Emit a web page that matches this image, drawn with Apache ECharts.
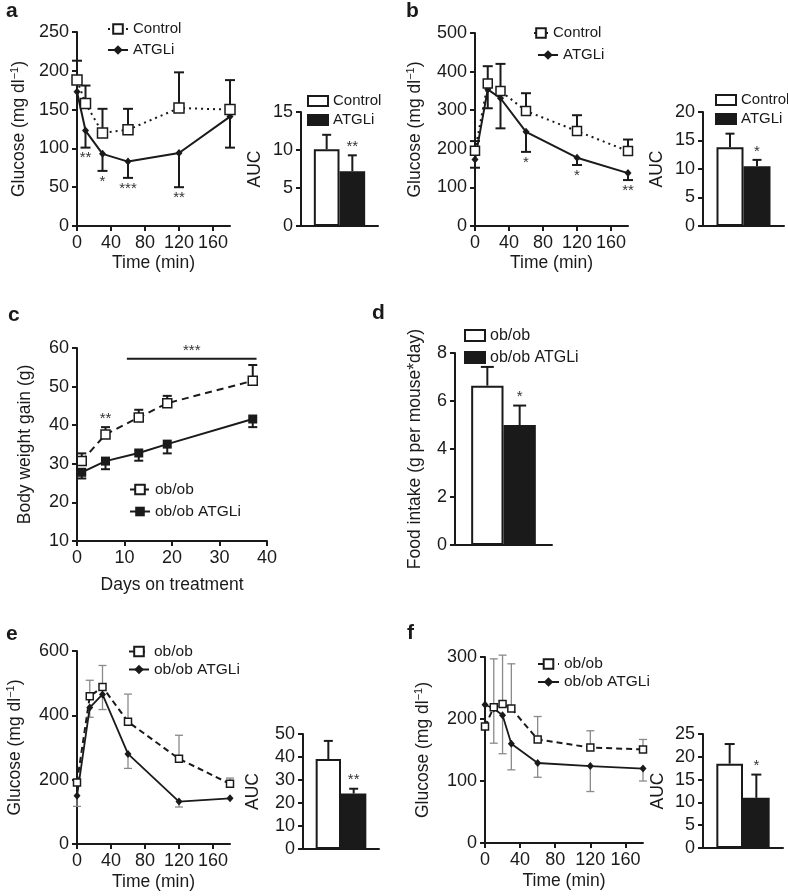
<!DOCTYPE html>
<html><head><meta charset="utf-8">
<script src="https://cdn.jsdelivr.net/npm/echarts@6/dist/echarts.min.js"></script>
<style>html,body{margin:0;padding:0;background:#fff}#c{width:788px;height:896px}</style>
</head><body><div id="c"></div>
<script>
// ================= DATA =================
// tick labels
const timeTicks = [0, 40, 80, 120, 160];
const barSlots = ['', 'Control', 'ATGLi', ''];
// Panel a (glucose, time course)
const aTime = [0, 10, 30, 60, 120, 180];
const aControl = [188, 158, 120, 124, 152, 150];
const aControlErr = [25, 23, 31, 27, 46, 38];
const aATGLi = [173, 123, 93, 83, 94, 141];
const aATGLiErr = [0, 22, 22, 21, 44, 40];
const aStars = ['', '**', '*', '***', '**', ''];
// Panel a AUC
const aAUC = [10.1, 7.2];
const aAUCErr = [1.9, 2.1];
const aAUCStars = ['', '**'];
// Panel b
const bTime = [0, 15, 30, 60, 120, 180];
const bControl = [195, 369, 350, 298, 246, 194];
const bControlErr = [25, 45, 70, 46, 41, 30];
const bATGLi = [172, 354, 331, 244, 177, 137];
const bATGLiErr = [21, 49, 78, 52, 19, 18];
const bStars = ['', '', '', '*', '*', '**'];
const bAUC = [13.8, 10.5];
const bAUCErr = [2.4, 1.1];
const bAUCStars = ['', '*'];
// Panel c (body weight gain)
const cDays = [1, 6, 13, 19, 37];
const cObob = [30.7, 37.6, 42.0, 45.7, 51.5];
const cObobErr = [2.0, 1.9, 2.0, 1.9, 4.1];
const cATGLi = [27.8, 30.7, 32.8, 35.1, 41.6];
const cATGLiErr = [1.6, 2.1, 2.0, 2.4, 2.1];
const cStars = ['', '**', '', '', ''];
const cSigStart = 10.5, cSigEnd = 37.8, cSigLevel = 57.2, cSigText = '***';
// Panel d (food intake)
const dValues = [6.64, 5.0];
const dErr = [0.78, 0.81];
const dStars = ['', '*'];
// Panel e
const eTime = [0, 15, 30, 60, 120, 180];
const eObob = [191, 459, 488, 380, 265, 187];
const eObobErr = [0, 50, 67, 86, 73, 18];
const eATGLi = [150, 424, 465, 280, 132, 142];
const eATGLiErr = [33, 30, 47, 45, 17, 0];
const eAUC = [39.1, 24.1];
const eAUCErr = [7.9, 2.1];
const eAUCStars = ['', '**'];
// Panel f
const fTime = [0, 10, 20, 30, 60, 120, 180];
const fObob = [188, 219, 224, 217, 167, 154, 151];
const fObobErr = [0, 78, 79, 72, 37, 27, 16];
const fATGLi = [223, 217, 206, 160, 129, 124, 120];
const fATGLiErr = [0, 56, 62, 42, 23, 41, 20];
const fAUC = [18.5, 11.0];
const fAUCErr = [4.3, 5.1];
const fAUCStars = ['', '*'];

// ================= STYLE / BUILD =================
const FONT = "'Liberation Sans', Arial, Helvetica, sans-serif";
const INK = '#1a1a1a';
const GREY = '#8a8a8a';
const STAR = '#333';
const zip = (xs, ys) => xs.map((x, i) => [x, ys[i]]);
const errData = (xs, ys, es, dir) => xs.map((x, i) => [x, ys[i], es[i], dir]);

const grids = [
  {left: 77, top: 32, width: 153, height: 194},    // 0 a
  {left: 301, top: 112, width: 77, height: 114},   // 1 a AUC
  {left: 475, top: 33, width: 153, height: 193},   // 2 b
  {left: 703, top: 112, width: 81, height: 114},   // 3 b AUC
  {left: 77, top: 348, width: 190, height: 193},   // 4 c
  {left: 455, top: 353, width: 97, height: 192},   // 5 d
  {left: 77, top: 651, width: 153, height: 193},   // 6 e
  {left: 303, top: 734, width: 76, height: 115},   // 7 e AUC
  {left: 485, top: 657, width: 158, height: 186},  // 8 f
  {left: 703, top: 734, width: 80, height: 114}    // 9 f AUC
].map(g => Object.assign({containLabel: false, outerBoundsMode: 'none'}, g));

const axisLine = {show: true, onZero: false, lineStyle: {color: INK, width: 2}};
const axisTick = {show: true, inside: false, length: 5, lineStyle: {color: INK, width: 2}};
const tickLabel = {color: INK, fontSize: 18, fontFamily: FONT, margin: 8};
const nameStyle = {color: INK, fontSize: 17.5, fontFamily: FONT, lineHeight: 20,
  rich: {sup: {fontSize: 11, fontFamily: FONT, color: INK, verticalAlign: 'top', lineHeight: 12}}};

function xTime(gi, name, gap) {
  return {type: 'value', gridIndex: gi, min: 0, max: 180, axisLine,
    axisTick: Object.assign({}, axisTick, {customValues: timeTicks}),
    axisLabel: Object.assign({}, tickLabel, {customValues: timeTicks}),
    splitLine: {show: false}, name, nameLocation: 'middle', nameGap: gap, nameTextStyle: nameStyle};
}
function xBars(gi) {
  return {type: 'category', gridIndex: gi, data: barSlots, boundaryGap: false, axisLine,
    axisTick: {show: false}, axisLabel: {show: false}, splitLine: {show: false}};
}
function yVal(gi, min, max, interval, name, gap) {
  return {type: 'value', gridIndex: gi, min, max, interval, axisLine, axisTick,
    axisLabel: tickLabel, splitLine: {show: false},
    name, nameLocation: 'middle', nameGap: gap, nameTextStyle: nameStyle};
}

const xAxes = [
  xTime(0, 'Time (min)', 22),
  xBars(1),
  xTime(2, 'Time (min)', 22),
  xBars(3),
  {type: 'value', gridIndex: 4, min: 0, max: 40, interval: 10, axisLine, axisTick, axisLabel: tickLabel,
    splitLine: {show: false}, name: 'Days on treatment', nameLocation: 'middle', nameGap: 34, nameTextStyle: nameStyle},
  xBars(5),
  xTime(6, 'Time (min)', 28),
  xBars(7),
  xTime(8, 'Time (min)', 28),
  xBars(9)
];
const GL = 'Glucose (mg dl{sup|\u22121})';
const yAxes = [
  yVal(0, 0, 250, 50, GL, 48),
  yVal(1, 0, 15, 5, 'AUC', 36),
  yVal(2, 0, 500, 100, GL, 50),
  yVal(3, 0, 20, 5, 'AUC', 36),
  yVal(4, 10, 60, 10, 'Body weight gain (g)', 42),
  yVal(5, 0, 8, 2, 'Food intake (g per mouse*day)', 30),
  yVal(6, 0, 600, 200, GL, 52),
  yVal(7, 0, 50, 10, 'AUC', 40),
  yVal(8, 0, 300, 100, GL, 52),
  yVal(9, 0, 25, 5, 'AUC', 35)
];

function errSeries(gi, data, color, lw, cap) {
  return {type: 'custom', xAxisIndex: gi, yAxisIndex: gi, z: 1, silent: true, data,
    renderItem(params, api) {
      const x = api.value(0), y = api.value(1), e = api.value(2), dir = api.value(3);
      if (!e) return null;
      const p0 = api.coord([x, y]), p1 = api.coord([x, y + dir * e]);
      const st = {stroke: color, lineWidth: lw};
      return {type: 'group', children: [
        {type: 'line', shape: {x1: p0[0], y1: p0[1], x2: p1[0], y2: p1[1]}, style: st},
        {type: 'line', shape: {x1: p1[0] - cap / 2, y1: p1[1], x2: p1[0] + cap / 2, y2: p1[1]}, style: st}
      ]};
    }};
}
function starSeries(gi, anchors, texts, below, dy) {
  return {type: 'custom', xAxisIndex: gi, yAxisIndex: gi, z: 5, silent: true, data: anchors,
    renderItem(params, api) {
      const t = texts[params.dataIndex];
      if (!t) return null;
      const p = api.coord([api.value(0), api.value(1)]);
      return {type: 'text', x: p[0], y: p[1] + dy, style: {text: t, fill: STAR,
        font: '15px ' + FONT, align: 'center', verticalAlign: below ? 'top' : 'bottom'}};
    }};
}
function lineSeries(gi, name, xs, ys, opt) {
  return Object.assign({type: 'line', name, xAxisIndex: gi, yAxisIndex: gi, data: zip(xs, ys),
    showSymbol: true, z: 3, silent: true}, opt);
}
const openSq = (size, lineType, lw) => ({symbol: 'rect', symbolSize: size,
  itemStyle: {color: '#fff', borderColor: INK, borderWidth: 1.5},
  lineStyle: {color: INK, width: lw, type: lineType}, z: 4});
const diamond = (size, lw) => ({symbol: 'diamond', symbolSize: size,
  itemStyle: {color: INK, borderWidth: 0}, lineStyle: {color: INK, width: lw, type: 'solid'}});
const filledSq = (size, lw) => ({symbol: 'rect', symbolSize: size,
  itemStyle: {color: INK, borderWidth: 0}, lineStyle: {color: INK, width: lw, type: 'solid'}});

function barPanel(gi, prefix, names, vals, errs, stars, cap) {
  const pad = (v, k) => barSlots.map((_, i) => i === k + 1 ? v : '-');
  return [
    {type: 'bar', name: prefix + names[0], xAxisIndex: gi, yAxisIndex: gi, data: pad(vals[0], 0),
      barWidth: '100%', barGap: '-100%', silent: true, z: 2,
      itemStyle: {color: '#fff', borderColor: INK, borderWidth: 2}},
    {type: 'bar', name: prefix + names[1], xAxisIndex: gi, yAxisIndex: gi, data: pad(vals[1], 1),
      barWidth: '100%', barGap: '-100%', silent: true, z: 2,
      itemStyle: {color: INK, borderColor: INK, borderWidth: 2}},
    errSeries(gi, vals.map((v, i) => [i + 1, v, errs[i], 1]), INK, 2, cap),
    starSeries(gi, vals.map((v, i) => [i + 1, v + errs[i]]), stars, false, -1)
  ];
}

const series = [
  // a
  errSeries(0, errData(aTime, aControl, aControlErr, 1), INK, 2, 10),
  errSeries(0, errData(aTime, aATGLi, aATGLiErr, -1), INK, 2, 10),
  lineSeries(0, 'a:ATGLi', aTime, aATGLi, diamond([7, 8], 2)),
  lineSeries(0, 'a:Control', aTime, aControl, openSq(10, [2, 4], 2)),
  starSeries(0, aTime.map((t, i) => [t, aATGLi[i] - aATGLiErr[i]]), aStars, true, 3),
  ...barPanel(1, 'aA:', ['Control', 'ATGLi'], aAUC, aAUCErr, aAUCStars, 9),
  // b
  errSeries(2, errData(bTime, bControl, bControlErr, 1), INK, 2, 10),
  errSeries(2, errData(bTime, bATGLi, bATGLiErr, -1), INK, 2, 10),
  lineSeries(2, 'b:ATGLi', bTime, bATGLi, diamond([7, 8], 2)),
  lineSeries(2, 'b:Control', bTime, bControl, openSq(9, [2, 4], 2)),
  starSeries(2, bTime.map((t, i) => [t, bATGLi[i] - bATGLiErr[i]]), bStars, true, 3),
  ...barPanel(3, 'bA:', ['Control', 'ATGLi'], bAUC, bAUCErr, bAUCStars, 9),
  // c
  errSeries(4, errData(cDays, cObob, cObobErr, 1), INK, 2, 9),
  errSeries(4, errData(cDays, cATGLi, cATGLiErr, -1), INK, 2, 9),
  lineSeries(4, 'c:ob/ob ATGLi', cDays, cATGLi, filledSq(9, 2)),
  lineSeries(4, 'c:ob/ob', cDays, cObob, openSq(9, [7, 5], 2)),
  starSeries(4, cDays.map((t, i) => [t, cObob[i] + cObobErr[i]]), cStars, false, -1),
  {type: 'custom', xAxisIndex: 4, yAxisIndex: 4, z: 5, silent: true, data: [[cSigStart, cSigEnd, cSigLevel]],
    renderItem(params, api) {
      const p0 = api.coord([api.value(0), api.value(2)]), p1 = api.coord([api.value(1), api.value(2)]);
      return {type: 'group', children: [
        {type: 'line', shape: {x1: p0[0], y1: p0[1], x2: p1[0], y2: p1[1]}, style: {stroke: INK, lineWidth: 2}},
        {type: 'text', x: (p0[0] + p1[0]) / 2, y: p0[1], style: {text: cSigText, fill: STAR,
          font: '15px ' + FONT, align: 'center', verticalAlign: 'bottom'}}
      ]};
    }},
  // d
  ...barPanel(5, 'd:', ['ob/ob', 'ob/ob ATGLi'], dValues, dErr, dStars, 13),
  // e
  errSeries(6, errData(eTime, eObob, eObobErr, 1), GREY, 1.3, 8),
  errSeries(6, errData(eTime, eATGLi, eATGLiErr, -1), GREY, 1.3, 8),
  lineSeries(6, 'e:ob/ob ATGLi', eTime, eATGLi, diamond([7, 8], 1.8)),
  lineSeries(6, 'e:ob/ob', eTime, eObob, openSq(7, [6, 4], 2)),
  ...barPanel(7, 'eA:', ['ob/ob', 'ob/ob ATGLi'], eAUC, eAUCErr, eAUCStars, 9),
  // f
  errSeries(8, errData(fTime, fObob, fObobErr, 1), GREY, 1.3, 8),
  errSeries(8, errData(fTime, fATGLi, fATGLiErr, -1), GREY, 1.3, 8),
  lineSeries(8, 'f:ob/ob ATGLi', fTime, fATGLi, diamond([7, 8], 1.8)),
  lineSeries(8, 'f:ob/ob', fTime, fObob, openSq(7, [6, 4], 2)),
  ...barPanel(9, 'fA:', ['ob/ob', 'ob/ob ATGLi'], fAUC, fAUCErr, fAUCStars, 10)
];

const legBase = {orient: 'vertical', padding: 0, selectedMode: false,
  textStyle: {fontSize: 15, color: INK, fontFamily: FONT},
  formatter: n => n.split(':')[1]};
const leg = o => Object.assign({}, legBase, o);
const legend = [
  leg({left: 107, top: 21.5, itemWidth: 20, itemHeight: 12, itemGap: 6, data: ['a:Control', 'a:ATGLi']}),
  leg({left: 307, top: 93.5, itemWidth: 20, itemHeight: 10, itemGap: 4, icon: 'rect', data: ['aA:Control', 'aA:ATGLi']}),
  leg({left: 533, top: 25.5, itemWidth: 14, itemHeight: 12, data: ['b:Control']}),
  leg({left: 537, top: 47.5, itemWidth: 20, itemHeight: 12, data: ['b:ATGLi']}),
  leg({left: 715, top: 92.5, itemWidth: 20, itemHeight: 10, itemGap: 4, icon: 'rect', data: ['bA:Control', 'bA:ATGLi']}),
  leg({left: 129, top: 481.5, itemWidth: 20, itemHeight: 12, itemGap: 6, data: ['c:ob/ob', 'c:ob/ob ATGLi'],
    textStyle: {fontSize: 15.5, color: INK, fontFamily: FONT}}),
  leg({left: 464, top: 327.5, itemWidth: 20, itemHeight: 11, itemGap: 6, icon: 'rect', data: ['d:ob/ob', 'd:ob/ob ATGLi'],
    textStyle: {fontSize: 16, color: INK, fontFamily: FONT}}),
  leg({left: 128, top: 643.5, itemWidth: 20, itemHeight: 12, itemGap: 2, data: ['e:ob/ob', 'e:ob/ob ATGLi'],
    textStyle: {fontSize: 15.5, color: INK, fontFamily: FONT}}),
  leg({left: 537, top: 656, itemWidth: 21, itemHeight: 12, itemGap: 2, data: ['f:ob/ob', 'f:ob/ob ATGLi'],
    textStyle: {fontSize: 15.5, color: INK, fontFamily: FONT}})
];

const panelLabel = (t, left, top) => ({text: t, left, top, padding: 0,
  textStyle: {fontSize: 21, fontWeight: 'bold', color: INK, fontFamily: FONT}});
const title = [
  panelLabel('a', 6, 1), panelLabel('b', 406, 1), panelLabel('c', 8, 305),
  panelLabel('d', 372, 303), panelLabel('e', 6, 624), panelLabel('f', 407, 623)
];

const chart = echarts.init(document.getElementById('c'), null, {renderer: 'canvas'});
chart.setOption({animation: false, backgroundColor: '#fff', textStyle: {fontFamily: FONT},
  title, legend, grid: grids, xAxis: xAxes, yAxis: yAxes, series});
</script></body></html>
